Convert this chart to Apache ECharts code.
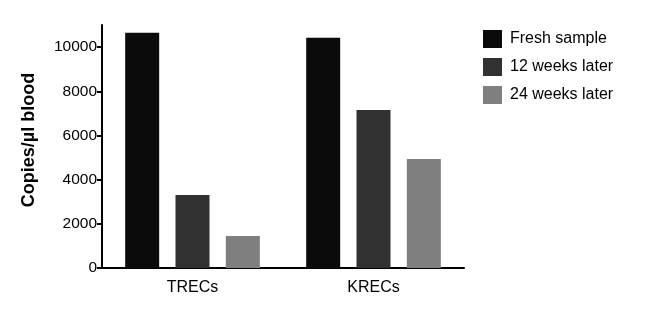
<!DOCTYPE html>
<html><head><meta charset="utf-8">
<script src="https://cdn.jsdelivr.net/npm/echarts@6/dist/echarts.min.js"></script>
<style>html,body{margin:0;padding:0;background:#fff}#c{width:656px;height:310px}</style>
</head><body><div id="c"></div>
<script>
const categories = ['TRECs', 'KRECs'];
const seriesNames = ['Fresh sample', '12 weeks later', '24 weeks later'];
const freshSample = [10650, 10420];
const weeks12 = [3300, 7150];
const weeks24 = [1450, 4930];
const yTicks = [0, 2000, 4000, 6000, 8000, 10000];
const colors = ['#0b0b0b', '#313131', '#7f7f7f'];

const chart = echarts.init(document.getElementById('c'));
const font = 'Liberation Sans, Arial, Helvetica, sans-serif';
const values = [freshSample, weeks12, weeks24];
chart.setOption({
  animation: false,
  backgroundColor: '#fff',
  grid: { left: 102, top: 25, width: 362, height: 243, containLabel: false },
  legend: {
    orient: 'vertical', left: 478, top: 25,
    itemWidth: 19, itemHeight: 18, itemGap: 10,
    icon: 'rect',
    textStyle: { fontFamily: font, fontSize: 16, color: '#000', padding: [0, 0, 0, 3] },
    data: seriesNames
  },
  xAxis: {
    type: 'category', data: categories,
    axisLine: { lineStyle: { color: '#000', width: 2 } },
    axisTick: { alignWithLabel: true, length: 6, lineStyle: { color: '#000', width: 2 } },
    axisLabel: { fontFamily: font, fontSize: 16, color: '#000', margin: 12 }
  },
  yAxis: {
    type: 'value', min: 0, max: 11000,
    name: 'Copies/µl blood', nameLocation: 'middle', nameGap: 64,
    nameTextStyle: { fontFamily: font, fontSize: 18, fontWeight: 'bold', color: '#000', padding: [0, 0, 0, 13] },
    splitLine: { show: false },
    axisLine: { show: true, lineStyle: { color: '#000', width: 2 } },
    axisTick: { show: true, length: 5, customValues: yTicks, lineStyle: { color: '#000', width: 2 } },
    axisLabel: { fontFamily: font, fontSize: 15.5, color: '#000', margin: 5, customValues: yTicks,
      formatter: v => String(v) }
  },
  series: seriesNames.map((n, i) => ({
    name: n, type: 'bar', data: values[i],
    barWidth: 34, barGap: '48%',
    itemStyle: { color: colors[i] }
  }))
});
</script></body></html>
